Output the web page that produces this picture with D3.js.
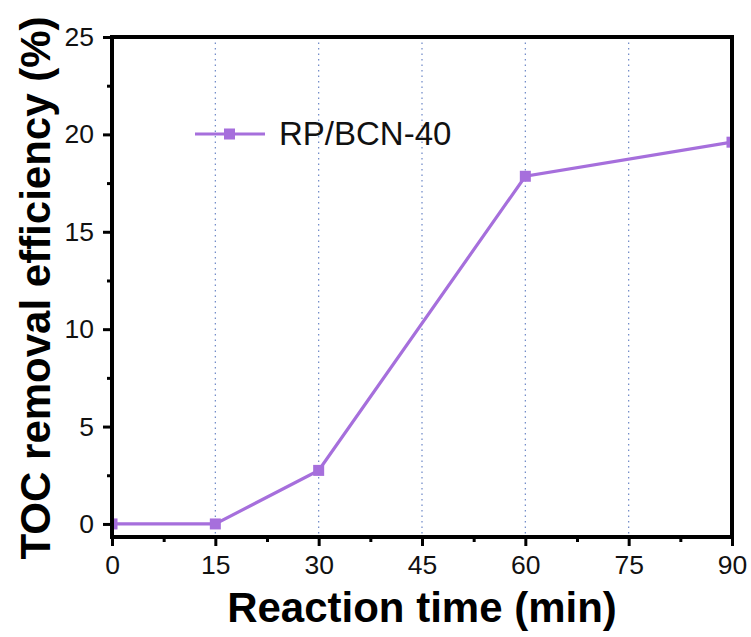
<!DOCTYPE html>
<html><head><meta charset="utf-8">
<script src="https://cdn.jsdelivr.net/npm/d3@7/dist/d3.min.js"></script>
<style>body{margin:0;background:#fff}</style>
</head><body>
<svg id="c" width="751" height="637"></svg>
<script>
const times = [0, 15, 30, 60, 90];
const toc = [0, 0, 2.75, 17.85, 19.6];
const seriesName = "RP/BCN-40";
const xTicks = [0, 15, 30, 45, 60, 75, 90];
const yTicks = [0, 5, 10, 15, 20, 25];
const gridTicks = [15, 30, 45, 60, 75];

const svg = d3.select("#c");
const L = 112, R = 732, T = 37, B = 537;
const x = d3.scaleLinear().domain([0, 90]).range([L, R]);
const y = d3.scaleLinear().domain([-0.67, 25]).range([B, T]);
const purple = "#a66fdc";
const font = "Liberation Sans, Arial, sans-serif";

// grid
svg.append("g").selectAll("line").data(gridTicks).join("line")
  .attr("x1", d => x(d)).attr("x2", d => x(d))
  .attr("y1", T).attr("y2", B)
  .attr("stroke", "#6b86c6").attr("stroke-width", 1.2)
  .attr("stroke-dasharray", "1.5,4");

// clip
svg.append("clipPath").attr("id", "clip").append("rect")
  .attr("x", L).attr("y", T).attr("width", R - L).attr("height", B - T);

const g = svg.append("g").attr("clip-path", "url(#clip)");
const line = d3.line().x((d, i) => x(times[i])).y(d => y(d));
g.append("path").datum(toc).attr("d", line)
  .attr("fill", "none").attr("stroke", purple).attr("stroke-width", 3.2);
g.selectAll("rect.m").data(toc).join("rect").attr("class", "m")
  .attr("x", (d, i) => x(times[i]) - 5.5).attr("y", d => y(d) - 5.5)
  .attr("width", 11).attr("height", 11).attr("fill", purple);

// axes
const xAxis = d3.axisBottom(x).tickValues(xTicks).tickSize(9).tickPadding(9).tickFormat(d3.format("d"));
const xMinor = d3.axisBottom(x).tickValues(d3.range(7.5, 90, 15)).tickSize(5).tickFormat("");
const yAxis = d3.axisLeft(y).tickValues(yTicks).tickSize(9).tickPadding(9).tickFormat(d3.format("d"));
const yMinor = d3.axisLeft(y).tickValues(d3.range(2.5, 25, 5)).tickSize(5).tickFormat("");

function style(sel) {
  sel.select(".domain").remove();
  sel.selectAll(".tick line").attr("stroke", "#000").attr("stroke-width", 3);
  sel.selectAll(".tick text").attr("font-family", font).attr("font-size", 26.5).attr("fill", "#111");
}
svg.append("g").attr("transform", `translate(0,${B})`).call(xAxis).call(style);
svg.append("g").attr("transform", `translate(0,${B})`).call(xMinor).call(style);
svg.append("g").attr("transform", `translate(${L},0)`).call(yAxis).call(style);
svg.append("g").attr("transform", `translate(${L},0)`).call(yMinor).call(style);

// frame
svg.append("rect").attr("x", L).attr("y", T).attr("width", R - L).attr("height", B - T)
  .attr("fill", "none").attr("stroke", "#000").attr("stroke-width", 4);

// legend
const lg = svg.append("g");
lg.append("line").attr("x1", 195).attr("x2", 265).attr("y1", 134).attr("y2", 134)
  .attr("stroke", purple).attr("stroke-width", 3.2);
lg.append("rect").attr("x", 224).attr("y", 128.5).attr("width", 11).attr("height", 11).attr("fill", purple);
lg.append("text").attr("x", 279).attr("y", 145).text(seriesName)
  .attr("font-family", font).attr("font-size", 33).attr("fill", "#111");

// titles
svg.append("text").attr("x", 422).attr("y", 622).attr("text-anchor", "middle")
  .attr("font-family", font).attr("font-weight", "bold").attr("font-size", 42)
  .text("Reaction time (min)");
svg.append("text").attr("transform", "translate(50,288) rotate(-90)").attr("text-anchor", "middle")
  .attr("font-family", font).attr("font-weight", "bold").attr("font-size", 42)
  .text("TOC removal efficiency (%)");
</script>
</body></html>
